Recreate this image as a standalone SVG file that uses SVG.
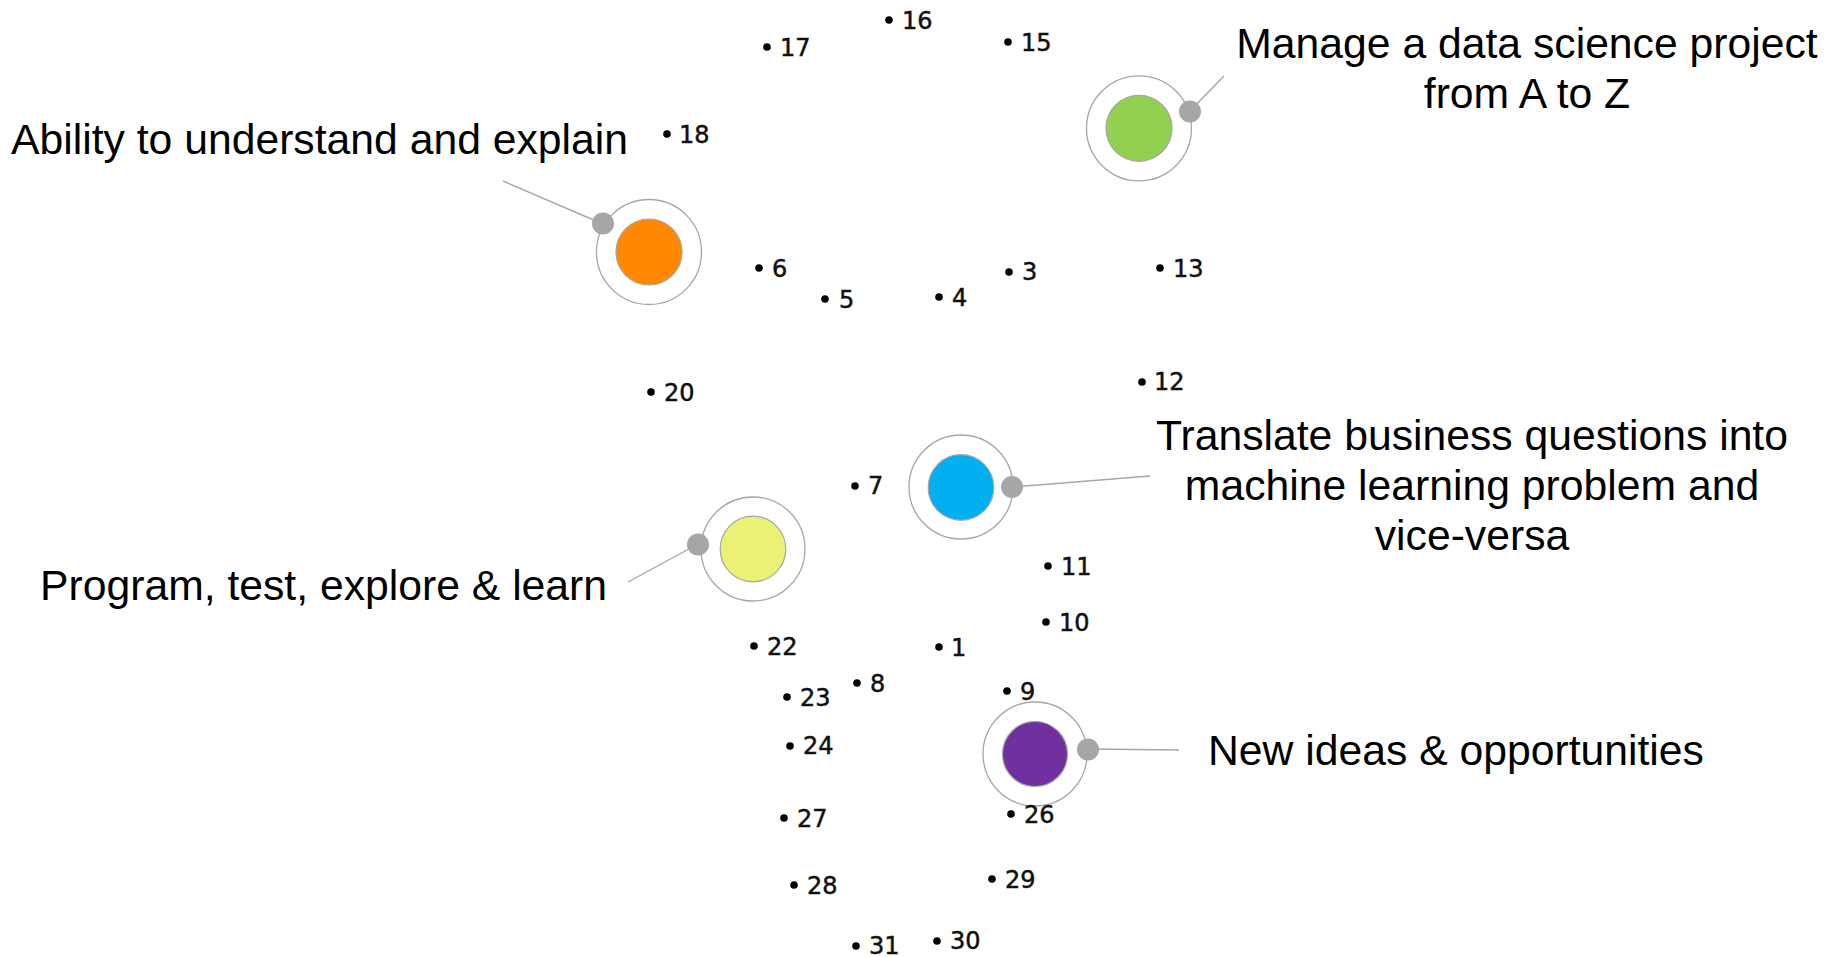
<svg xmlns="http://www.w3.org/2000/svg" width="1837" height="957" viewBox="0 0 1837 957">
<style>
.lbl{font-family:"Liberation Sans",Arial,Helvetica,sans-serif;font-size:42.7px;fill:#000}
.num{font-family:"DejaVu Sans",Verdana,sans-serif;font-size:24px;fill:#111;stroke:#111;stroke-width:0.5}
.pt{fill:#000}
.ring{fill:none;stroke:#a6a6a6;stroke-width:1.3}
.core{stroke:#a6a6a6;stroke-width:1.2}
.knob{fill:#a6a6a6}
.conn{stroke:#a6a6a6;stroke-width:1.4;fill:none}
</style>
<rect width="1837" height="957" fill="#fff"/>
<g id="connectors">
<line class="conn" x1="503" y1="181" x2="603" y2="224"/>
<line class="conn" x1="1190" y1="111" x2="1224" y2="76"/>
<line class="conn" x1="1012" y1="487" x2="1150" y2="476"/>
<line class="conn" x1="698" y1="544" x2="628" y2="582"/>
<line class="conn" x1="1088" y1="749" x2="1179" y2="750"/>
</g>
<g id="node-orange">
<circle class="ring" cx="649" cy="252" r="52.5"/>
<circle class="core" cx="649" cy="252" r="33" fill="#ff8800"/>
<circle class="knob" cx="603" cy="223.5" r="11"/>
</g>
<g id="node-green">
<circle class="ring" cx="1139" cy="128.3" r="52.5"/>
<circle class="core" cx="1139" cy="128.3" r="33" fill="#92d050"/>
<circle class="knob" cx="1190" cy="111.5" r="11"/>
</g>
<g id="node-blue">
<circle class="ring" cx="961" cy="487" r="52"/>
<circle class="core" cx="961" cy="487.5" r="32.8" fill="#00b0f0"/>
<circle class="knob" cx="1012" cy="487" r="11"/>
</g>
<g id="node-yellow">
<circle class="ring" cx="753" cy="549" r="52"/>
<circle class="core" cx="753" cy="549" r="32.8" fill="#ebf175"/>
<circle class="knob" cx="698" cy="544.5" r="11"/>
</g>
<g id="node-purple">
<circle class="ring" cx="1035" cy="754" r="52"/>
<circle class="core" cx="1035" cy="754" r="32.5" fill="#7030a0"/>
<circle class="knob" cx="1088" cy="749.5" r="11"/>
</g>
<g id="label-ability"><text class="lbl" x="11" y="154">Ability to understand and explain</text></g>
<g id="label-manage"><text class="lbl" x="1527" y="58" text-anchor="middle">Manage a data science project</text><text class="lbl" x="1527" y="108" text-anchor="middle">from A to Z</text></g>
<g id="label-translate"><text class="lbl" x="1472" y="450" text-anchor="middle">Translate business questions into</text><text class="lbl" x="1472" y="500" text-anchor="middle">machine learning problem and</text><text class="lbl" x="1472" y="550" text-anchor="middle">vice-versa</text></g>
<g id="label-program"><text class="lbl" x="40" y="600">Program, test, explore &amp; learn</text></g>
<g id="label-new"><text class="lbl" x="1208" y="765">New ideas &amp; opportunities</text></g>
<g id="points">
<g id="p16"><circle class="pt" cx="889" cy="20" r="3.8"/><text class="num" x="902" y="28.5">16</text></g>
<g id="p17"><circle class="pt" cx="767" cy="47" r="3.8"/><text class="num" x="780" y="55.5">17</text></g>
<g id="p15"><circle class="pt" cx="1008" cy="42" r="3.8"/><text class="num" x="1021" y="50.5">15</text></g>
<g id="p18"><circle class="pt" cx="667" cy="134" r="3.8"/><text class="num" x="679" y="143">18</text></g>
<g id="p6"><circle class="pt" cx="759" cy="268" r="3.8"/><text class="num" x="772" y="276.5">6</text></g>
<g id="p5"><circle class="pt" cx="825" cy="299" r="3.8"/><text class="num" x="839" y="307.5">5</text></g>
<g id="p4"><circle class="pt" cx="939" cy="297" r="3.8"/><text class="num" x="952" y="305.5">4</text></g>
<g id="p3"><circle class="pt" cx="1009" cy="272" r="3.8"/><text class="num" x="1022" y="280">3</text></g>
<g id="p13"><circle class="pt" cx="1160" cy="268" r="3.8"/><text class="num" x="1173" y="277">13</text></g>
<g id="p12"><circle class="pt" cx="1142" cy="382" r="3.8"/><text class="num" x="1154" y="390">12</text></g>
<g id="p20"><circle class="pt" cx="651" cy="392" r="3.8"/><text class="num" x="664" y="400.5">20</text></g>
<g id="p7"><circle class="pt" cx="855" cy="486" r="3.8"/><text class="num" x="868" y="494">7</text></g>
<g id="p11"><circle class="pt" cx="1048" cy="566" r="3.8"/><text class="num" x="1061" y="574.5">11</text></g>
<g id="p10"><circle class="pt" cx="1046" cy="622" r="3.8"/><text class="num" x="1059" y="631">10</text></g>
<g id="p22"><circle class="pt" cx="754" cy="646" r="3.8"/><text class="num" x="767" y="654.5">22</text></g>
<g id="p1"><circle class="pt" cx="939" cy="647" r="3.8"/><text class="num" x="951" y="655.5">1</text></g>
<g id="p8"><circle class="pt" cx="857" cy="683" r="3.8"/><text class="num" x="870" y="691.5">8</text></g>
<g id="p23"><circle class="pt" cx="787" cy="697" r="3.8"/><text class="num" x="800" y="705.5">23</text></g>
<g id="p9"><circle class="pt" cx="1007" cy="691" r="3.8"/><text class="num" x="1020" y="699.5">9</text></g>
<g id="p24"><circle class="pt" cx="790" cy="746" r="3.8"/><text class="num" x="803" y="754">24</text></g>
<g id="p27"><circle class="pt" cx="784" cy="818" r="3.8"/><text class="num" x="797" y="826.5">27</text></g>
<g id="p26"><circle class="pt" cx="1011" cy="814" r="3.8"/><text class="num" x="1024" y="822.5">26</text></g>
<g id="p28"><circle class="pt" cx="794" cy="885" r="3.8"/><text class="num" x="807" y="893.5">28</text></g>
<g id="p29"><circle class="pt" cx="992" cy="879" r="3.8"/><text class="num" x="1005" y="887.5">29</text></g>
<g id="p31"><circle class="pt" cx="856" cy="946" r="3.8"/><text class="num" x="869" y="953.5">31</text></g>
<g id="p30"><circle class="pt" cx="937" cy="941" r="3.8"/><text class="num" x="950" y="948.5">30</text></g>
</g>
</svg>
